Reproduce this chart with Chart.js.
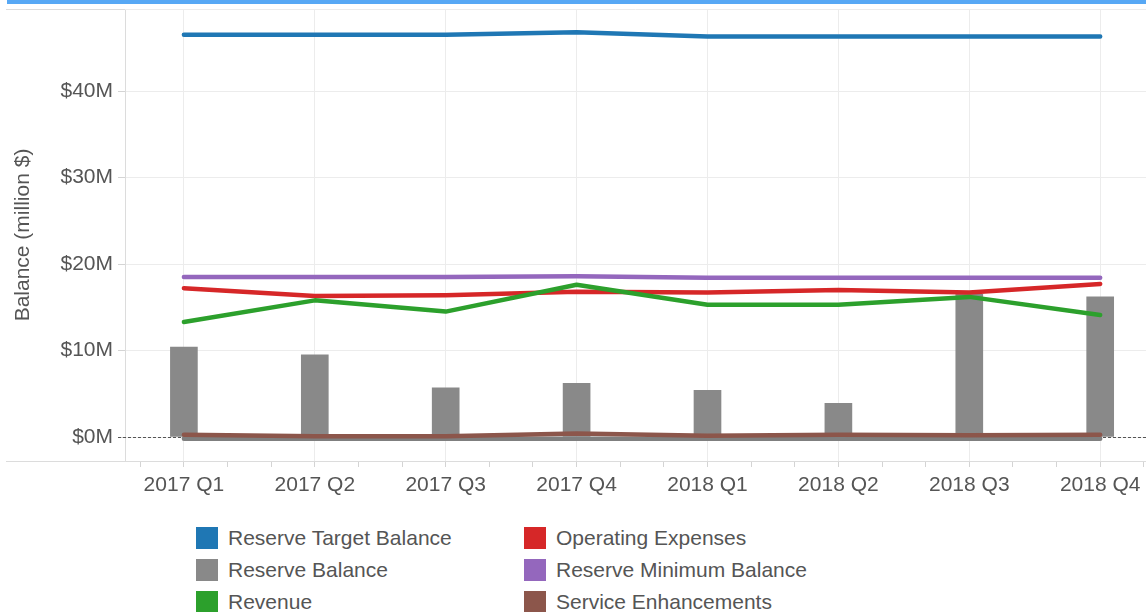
<!DOCTYPE html>
<html>
<head>
<meta charset="utf-8">
<script src="https://cdn.jsdelivr.net/npm/chart.js@4/dist/chart.umd.min.js"></script>
<style>
  html, body { margin: 0; padding: 0; background: #fff; overflow: hidden; }
  body { width: 1146px; height: 612px; position: relative; font-family: "Liberation Sans", Arial, sans-serif; }
  #stripe { position: absolute; left: 7px; top: 0; width: 1139px; height: 4px; background: #57a8f5; }
  #wrap { position: absolute; left: 0; top: 0; width: 1146px; height: 520px; }
  #legend { position: absolute; left: 196px; top: 527px; display: grid; grid-template-rows: repeat(3, 32px);
            grid-auto-flow: column; grid-template-columns: 328px 360px; }
  .item { display: flex; align-items: flex-start; height: 32px; }
  .box { width: 22px; height: 22px; margin-right: 10px; flex: none; }
  .lbl { font-size: 21px; color: #555; line-height: 22px; white-space: nowrap; }
</style>
</head>
<body>
<div id="stripe"></div>
<div id="wrap"><canvas id="chart"></canvas></div>
<div id="legend"></div>
<script>
// Quarterly balances, million $
const quarters = ['2017 Q1', '2017 Q2', '2017 Q3', '2017 Q4', '2018 Q1', '2018 Q2', '2018 Q3', '2018 Q4'];
const reserveTarget = [46.5, 46.5, 46.5, 46.8, 46.3, 46.3, 46.3, 46.3];
const reserveBalance = [10.4, 9.5, 5.7, 6.2, 5.4, 3.9, 16.5, 16.2];
const revenue = [13.3, 15.8, 14.5, 17.6, 15.3, 15.3, 16.2, 14.1];
const operatingExpenses = [17.2, 16.3, 16.4, 16.8, 16.7, 17.0, 16.7, 17.7];
const reserveMinimum = [18.5, 18.5, 18.5, 18.6, 18.4, 18.4, 18.4, 18.4];
const serviceEnhancements = [0.25, 0.1, 0.1, 0.4, 0.15, 0.25, 0.2, 0.25];
const baseline = [-0.2, -0.2, -0.2, -0.2, -0.2, -0.2, -0.2, -0.2];
const yTicks = [0, 10, 20, 30, 40];

const pts = arr => arr.map((v, i) => ({ x: i, y: v }));
const FONT = { family: '"Liberation Sans", Arial, sans-serif', size: 21 };
const TEXT = '#555';

function lineSet(label, data, color, order, legend = true) {
  return { type: 'line', label, data: pts(data), borderColor: color, backgroundColor: color,
    borderWidth: 4.5, pointRadius: 0, tension: 0, borderCapStyle: 'round', borderJoinStyle: 'round',
    order, showInLegend: legend };
}

const datasets = [
  lineSet('Reserve Target Balance', reserveTarget, '#1f77b4', 1),
  { type: 'bar', label: 'Reserve Balance', data: pts(reserveBalance), backgroundColor: '#898989',
    borderWidth: 0, barThickness: 27, order: 10, showInLegend: true },
  lineSet('Revenue', revenue, '#2ca02c', 2),
  lineSet('Operating Expenses', operatingExpenses, '#d62728', 3),
  lineSet('Reserve Minimum Balance', reserveMinimum, '#9467bd', 4),
  lineSet('Service Enhancements', serviceEnhancements, '#8c564b', 5),
  lineSet('', baseline, '#7f7f7f', 6, false),
];

const isMajor = v => Math.abs(v - Math.round(v)) < 1e-6;

const framePlugin = {
  id: 'frame',
  beforeDatasetsDraw(chart) {
    const { ctx, chartArea: a, scales: { y } } = chart;
    ctx.save();
    ctx.lineWidth = 1;
    ctx.strokeStyle = '#dcdcdc';
    ctx.beginPath();
    ctx.moveTo(6, a.top + 0.5); ctx.lineTo(a.left, a.top + 0.5);
    ctx.moveTo(6, a.bottom + 0.5); ctx.lineTo(a.right, a.bottom + 0.5);
    ctx.stroke();
    ctx.strokeStyle = '#ececec';
    ctx.beginPath();
    ctx.moveTo(a.left, a.top + 0.5); ctx.lineTo(a.right, a.top + 0.5);
    ctx.stroke();
    // dotted zero line
    const y0 = Math.round(y.getPixelForValue(0)) + 0.5;
    ctx.strokeStyle = '#555';
    ctx.setLineDash([3, 2]);
    ctx.beginPath();
    ctx.moveTo(a.left - 7, y0); ctx.lineTo(a.right, y0);
    ctx.stroke();
    ctx.restore();
  }
};

const chart = new Chart(document.getElementById('chart'), {
  type: 'bar',
  data: { datasets },
  options: {
    responsive: true,
    maintainAspectRatio: false,
    animation: false,
    layout: { padding: { top: 9, right: 0, left: 0, bottom: 0 } },
    plugins: { legend: { display: false }, tooltip: { enabled: false } },
    scales: {
      x: {
        type: 'linear', min: -0.45, max: 7.35, offset: false,
        afterBuildTicks: s => { s.ticks = []; for (let k = -1; k <= 22; k++) s.ticks.push({ value: k / 3 }); },
        afterFit: s => { s.height = 59; s.paddingLeft = 0; s.paddingRight = 0; },
        ticks: { autoSkip: false, maxRotation: 0, padding: 6, color: TEXT, font: FONT,
          callback: v => isMajor(v) ? (quarters[Math.round(v)] || '') : '' },
        grid: { offset: false, color: c => (c.tick && !isMajor(c.tick.value)) ? 'rgba(0,0,0,0)' : '#ececec',
          tickColor: '#d4d4d4', tickLength: 6, lineWidth: 1 },
        border: { display: true, color: '#d4d4d4' }
      },
      y: {
        type: 'linear', min: -2.77, max: 49.48,
        afterBuildTicks: s => { s.ticks = yTicks.map(v => ({ value: v })); },
        afterFit: s => { s.width = 125; s.paddingTop = 0; s.paddingBottom = 0; },
        ticks: { padding: 5, color: TEXT, font: FONT, callback: v => '$' + v + 'M' },
        grid: { color: '#ececec', tickColor: '#d4d4d4', tickLength: 7 },
        border: { display: true, color: '#dcdcdc' },
        title: { display: true, text: 'Balance (million $)', color: TEXT, font: FONT, padding: { top: 11, bottom: 0 } }
      }
    }
  },
  plugins: [framePlugin]
});

// legend built from the chart's datasets
const legendEl = document.getElementById('legend');
chart.data.datasets.filter(d => d.showInLegend).forEach(d => {
  const item = document.createElement('div');
  item.className = 'item';
  item.innerHTML = `<span class="box" style="background:${d.backgroundColor}"></span><span class="lbl">${d.label}</span>`;
  legendEl.appendChild(item);
});
</script>
</body>
</html>
